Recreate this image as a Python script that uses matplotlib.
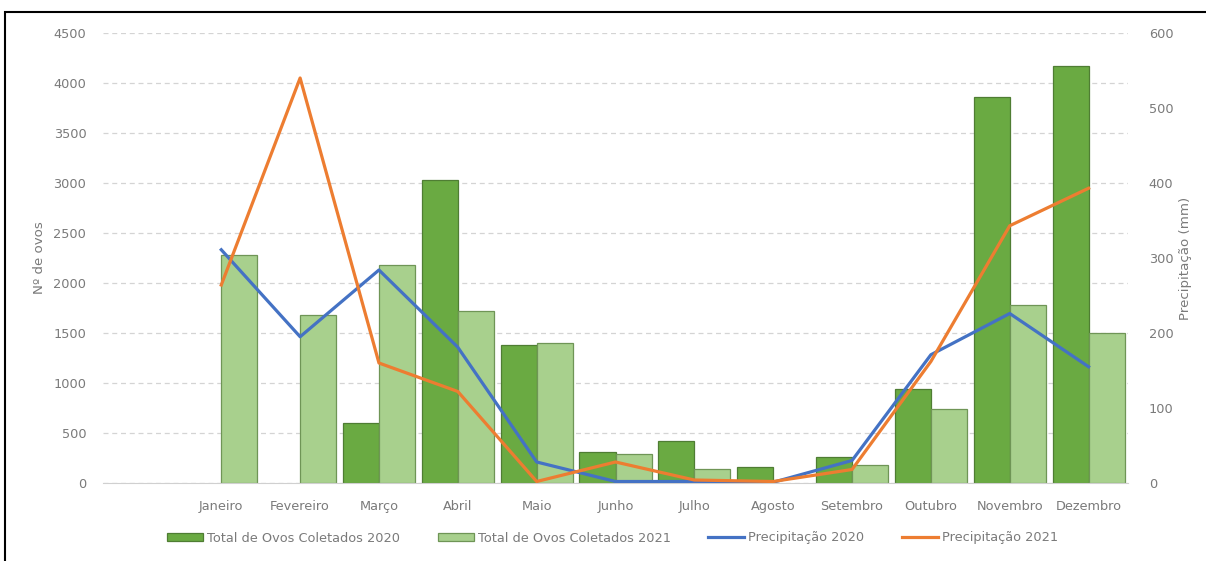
import numpy as np
import matplotlib
matplotlib.use("Agg")
import matplotlib.pyplot as plt
from matplotlib.patches import Rectangle, Patch

plt.rcParams['font.family'] = ['DejaVu Sans']

meses = ["Janeiro", "Fevereiro", "Março", "Abril", "Maio", "Junho", "Julho",
         "Agosto", "Setembro", "Outubro", "Novembro", "Dezembro"]

# ovos coletados por mês
ovos_2020 = [0, 0, 600, 3030, 1380, 310, 420, 160, 260, 940, 3860, 4170]
ovos_2021 = [2280, 1680, 2180, 1720, 1400, 290, 140, 0, 180, 740, 1780, 1500]

# precipitação mensal (mm)
prec_2020 = [311, 195, 284, 181, 28, 2, 2, 1, 30, 171, 226, 155]
prec_2021 = [264, 540, 160, 122, 2, 28, 4, 2, 18, 162, 343, 393]

verde_escuro = "#6aaa42"
verde_claro = "#a8d08d"
borda_escuro = "#4f7d33"
borda_claro = "#6f9556"
azul = "#4472c4"
laranja = "#ed7d31"
cinza = "#7a7a7a"
fs = 9.3

fig = plt.figure(figsize=(12.06, 5.61), dpi=100)
ax = fig.add_axes([103 / 1206, 78 / 561, 1025 / 1206, 450 / 561])
ax2 = ax.twinx()

x = np.arange(len(meses))
w = 0.457
b1 = ax.bar(x - w / 2, ovos_2020, w, color=verde_escuro,
            edgecolor=borda_escuro, linewidth=0.9, zorder=2)
b2 = ax.bar(x + w / 2, ovos_2021, w, color=verde_claro,
            edgecolor=borda_claro, linewidth=0.9, zorder=2)
# sem contorno nos meses sem coleta
for barras, vals in ((b1, ovos_2020), (b2, ovos_2021)):
    for r, v in zip(barras, vals):
        if v == 0:
            r.set_visible(False)

l1, = ax2.plot(x, prec_2020, color=azul, lw=2.3, solid_joinstyle="round")
l2, = ax2.plot(x, prec_2021, color=laranja, lw=2.3, solid_joinstyle="round")

# uma categoria vazia antes de janeiro
ax.set_xlim(-1.5, 11.5)
ax.set_ylim(0, 4500)
ax2.set_ylim(0, 600)
ax.set_yticks(np.arange(0, 4501, 500))
ax2.set_yticks(np.arange(0, 601, 100))
ax.set_xticks(x)
ax.set_xticklabels(meses)

ax.yaxis.grid(True, color="#d4d4d4", linestyle=(0, (4, 3)), linewidth=0.9,
              zorder=0)
ax.set_axisbelow(True)
for a in (ax, ax2):
    for s in a.spines.values():
        s.set_visible(False)
    a.tick_params(length=0, labelsize=fs, colors=cinza)
ax.spines["bottom"].set_visible(True)
ax.spines["bottom"].set_color("#d0d0d0")
ax.tick_params(axis="y", pad=12)
ax.tick_params(axis="x", pad=12)
ax2.tick_params(axis="y", pad=15)

ax.set_ylabel("Nº de ovos", fontsize=fs + 0.3, color=cinza, labelpad=5)
ax2.set_ylabel("Precipitação (mm)", fontsize=fs + 0.3, color=cinza,
               labelpad=4)

handles = [
    Patch(facecolor=verde_escuro, edgecolor=borda_escuro, linewidth=0.9),
    Patch(facecolor=verde_claro, edgecolor=borda_claro, linewidth=0.9),
    l1, l2,
]
labels = ["Total de Ovos Coletados 2020", "Total de Ovos Coletados 2021",
          "Precipitação 2020", "Precipitação 2021"]
fig.legend(handles, labels, loc="center", bbox_to_anchor=(0.508, 23 / 561),
           ncol=4, frameon=False, fontsize=fs, labelcolor=cinza,
           handlelength=2.8, handleheight=0.65, handletextpad=0.3,
           columnspacing=2.9)

# moldura
fig.patches.append(Rectangle((5 / 1206, -0.1), 1.2, (549 / 561) + 0.1,
                             transform=fig.transFigure, fill=False,
                             edgecolor="black", linewidth=1.5))

fig.savefig("out.png", dpi=100)
